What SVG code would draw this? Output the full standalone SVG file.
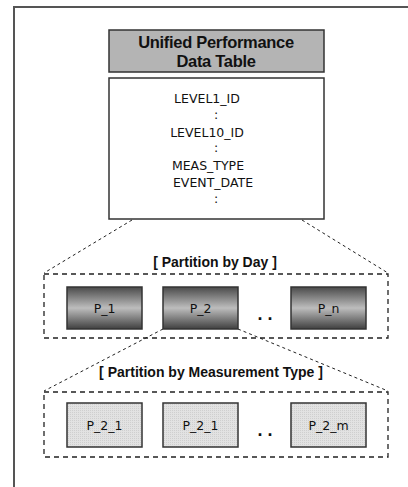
<svg xmlns="http://www.w3.org/2000/svg" width="408" height="487" viewBox="0 0 408 487">
<defs>
<linearGradient id="dark" x1="0" y1="0" x2="0" y2="1">
<stop offset="0" stop-color="#4a4a4a"/>
<stop offset="0.5" stop-color="#bdbdbd"/>
<stop offset="1" stop-color="#404040"/>
</linearGradient>
<pattern id="hatch" width="2" height="2" patternUnits="userSpaceOnUse">
<rect width="2" height="2" fill="#e2e2e2"/>
<rect width="1" height="1" fill="#cfcfcf"/>
</pattern>
<style>
.frame{fill:none;stroke:#555;stroke-width:2}
.box{stroke:#333;stroke-width:1.5}
.dash{fill:none;stroke:#222;stroke-width:1.3;stroke-dasharray:5,4}
.thin{fill:none;stroke:#222;stroke-width:1;stroke-dasharray:3,3}
.mono{font-family:"DejaVu Sans","Liberation Sans",sans-serif;font-size:12.5px;fill:#111;text-anchor:middle}
.title{font-family:"Liberation Sans",Arial,sans-serif;font-weight:bold;font-size:16.5px;fill:#111;text-anchor:middle;letter-spacing:-0.3px}
.ptitle{font-family:"Liberation Sans",Arial,sans-serif;font-weight:bold;font-size:14px;fill:#111;text-anchor:middle}
.lbl{font-family:"DejaVu Sans","Liberation Sans",sans-serif;font-size:12.5px;fill:#111;text-anchor:middle}
.dots{font-family:"Liberation Sans",Arial,sans-serif;font-weight:bold;font-size:18px;fill:#111;text-anchor:middle}
</style>
</defs>
<rect class="frame" x="14" y="7" width="410" height="500"/>
<g id="connectors">
<line class="thin" x1="132" y1="220" x2="44" y2="273"/>
<line class="thin" x1="302" y1="220" x2="388" y2="273"/>
<line class="thin" x1="163" y1="329" x2="44" y2="391"/>
<line class="thin" x1="238" y1="329" x2="388" y2="391"/>
</g>
<g id="table-header">
<rect class="box" x="109" y="30" width="215" height="42" fill="#b4b4b4"/>
<text class="title" x="216" y="48">Unified Performance</text>
<text class="title" x="216" y="67">Data Table</text>
</g>
<g id="table-body">
<rect class="box" x="109" y="78" width="215" height="141" fill="#fff"/>
<text class="mono" x="207" y="103">LEVEL1_ID</text>
<text class="mono" x="216" y="119">:</text>
<text class="mono" x="207" y="137">LEVEL10_ID</text>
<text class="mono" x="216" y="152">:</text>
<text class="mono" x="208" y="170">MEAS_TYPE</text>
<text class="mono" x="213" y="187">EVENT_DATE</text>
<text class="mono" x="216" y="203">:</text>
</g>
<g id="day-partition">
<text class="ptitle" x="215" y="267">[ Partition by Day ]</text>
<rect class="dash" x="44" y="274" width="344" height="64"/>
</g>
<g id="p1"><rect class="box" x="67" y="287" width="75" height="42" fill="url(#dark)"/><text class="lbl" x="104.5" y="313">P_1</text></g>
<g id="p2"><rect class="box" x="163" y="287" width="75" height="42" fill="url(#dark)"/><text class="lbl" x="200.5" y="313">P_2</text></g>
<g id="dots1"><text class="dots" x="265" y="320">. .</text></g>
<g id="pn"><rect class="box" x="291" y="287" width="75" height="42" fill="url(#dark)"/><text class="lbl" x="328.5" y="313">P_n</text></g>
<g id="meas-partition">
<text class="ptitle" x="211" y="377">[ Partition by Measurement Type ]</text>
<rect class="dash" x="44" y="392" width="344" height="65"/>
</g>
<g id="p21a"><rect class="box" x="67" y="403" width="75" height="44" fill="url(#hatch)"/><text class="lbl" x="104.5" y="430">P_2_1</text></g>
<g id="p21b"><rect class="box" x="163" y="403" width="75" height="44" fill="url(#hatch)"/><text class="lbl" x="200.5" y="430">P_2_1</text></g>
<g id="dots2"><text class="dots" x="265" y="436">. .</text></g>
<g id="p2m"><rect class="box" x="291" y="403" width="75" height="44" fill="url(#hatch)"/><text class="lbl" x="328.5" y="430">P_2_m</text></g>
</svg>
